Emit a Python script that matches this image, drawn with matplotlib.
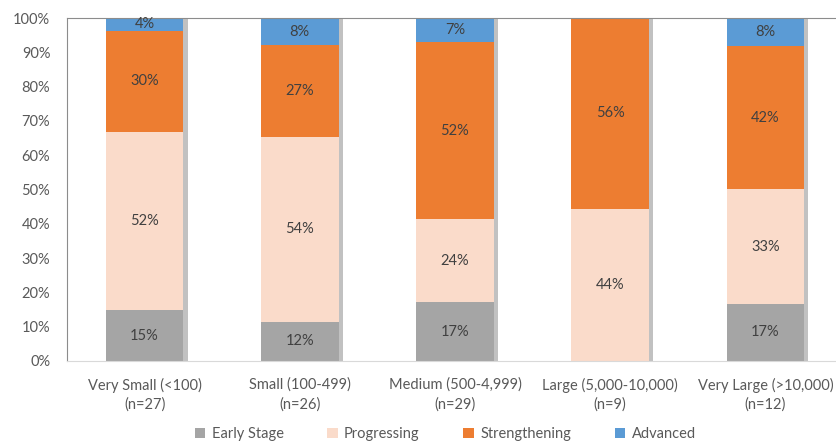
import matplotlib.pyplot as plt
import matplotlib.patheffects as pe
import numpy as np

plt.rcParams['font.family'] = ['Lato', 'DejaVu Sans']

categories = ["Very Small (<100)\n(n=27)", "Small (100-499)\n(n=26)",
              "Medium (500-4,999)\n(n=29)", "Large (5,000-10,000)\n(n=9)",
              "Very Large (>10,000)\n(n=12)"]
stages = ["Early Stage", "Progressing", "Strengthening", "Advanced"]
early = [14.8, 11.5, 17.2, 0.0, 16.7]
progressing = [51.9, 53.8, 24.1, 44.4, 33.3]
strengthening = [29.6, 26.9, 51.7, 55.6, 41.7]
advanced = [3.7, 7.7, 6.9, 0.0, 8.3]
colors = ["#A5A5A5", "#FADBCA", "#ED7D31", "#5B9BD5"]

fig = plt.figure(figsize=(8.37, 4.41), dpi=100)
ax = fig.add_axes([67 / 837, 1 - 361 / 441, 776 / 837, 343 / 441])

x = np.arange(len(categories))
series = [early, progressing, strengthening, advanced]
totals = np.sum(series, axis=0)

# soft drop shadow behind each whole stack
backs = ax.bar(x, totals, 0.5, color="white", zorder=1)
shadow = [pe.SimplePatchShadow(offset=(3, 0), shadow_rgbFace="#8f8f8f", alpha=0.55)]
for b in backs:
    b.set_path_effects(shadow)

bottom = np.zeros(len(categories))
for name, vals, col in zip(stages, series, colors):
    vals = np.array(vals)
    ax.bar(x, vals, 0.5, bottom=bottom, color=col, label=name, zorder=2)
    for xi, v, b0 in zip(x, vals, bottom):
        if v > 0:
            ax.text(xi, b0 + v / 2, f"{v:.0f}%", ha="center", va="center",
                    fontsize=10.5, color="#404040", zorder=3)
    bottom += vals

ax.set_xlim(-0.5, 4.5)
ax.set_ylim(0, 100)
ax.set_yticks(range(0, 101, 10))
ax.set_yticklabels([f"{t}%" for t in range(0, 101, 10)], fontsize=10.5, color="#595959")
ax.set_xticks(x)
ax.set_xticklabels(categories, fontsize=10.5, color="#595959", linespacing=1.45)
ax.tick_params(length=0, pad=12)
ax.tick_params(axis="y", pad=12)
for side in ["top", "left", "right"]:
    ax.spines[side].set_color("#8c8c8c")
ax.spines["bottom"].set_color("#d9d9d9")

fig.legend(loc="lower center", bbox_to_anchor=(0.532, -0.03), ncol=4, frameon=False,
           fontsize=10.5, labelcolor="#595959", handlelength=0.7, handleheight=0.7,
           handletextpad=0.45, columnspacing=3.0)

fig.savefig("out.png", dpi=100)
